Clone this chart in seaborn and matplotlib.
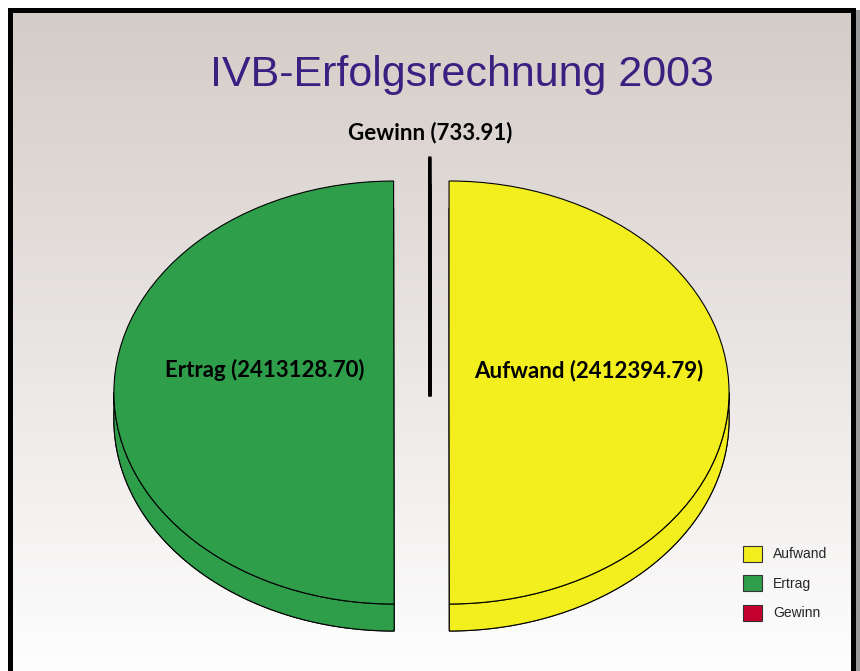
import numpy as np
import matplotlib.pyplot as plt
import matplotlib.patches as mpatches
import seaborn as sns

sns.set_theme(style="white")
plt.rcParams['font.family'] = ['Liberation Sans', 'DejaVu Sans']

# Data
title = "IVB-Erfolgsrechnung 2003"
categories = ["Aufwand", "Ertrag", "Gewinn"]
values = [2412394.79, 2413128.70, 733.91]
colors = ["#f3ef1f", "#2e9e4b", "#c4002e"]
explode = [0.068, 0.129, 0.109]

W, H = 860, 671
fig = plt.figure(figsize=(W / 100, H / 100), dpi=100)

# Framed background with a soft vertical gradient
bg = fig.add_axes([0, 0, 1, 1])
bg.set_xlim(0, W)
bg.set_ylim(H, 0)
bg.axis('off')
top_col = np.array([212, 204, 199]) / 255
bot_col = np.array([254, 254, 254]) / 255
frac = np.linspace(0, 1, 256)[:, None, None]
img = top_col + (bot_col - top_col) * frac
bg.imshow(img, extent=(13, 851, H, 13), aspect='auto', zorder=0)
bg.add_patch(mpatches.Rectangle((856, 10), 5, H, fc='#9a9a9a', ec='none', zorder=1))
for r in [(8, 8, 5, H), (8, 8, 848, 5), (851, 8, 5, H)]:
    bg.add_patch(mpatches.Rectangle(r[:2], r[2], r[3], fc='black', ec='none', zorder=2))

# Pie axes: pixel geometry of the elliptical top surface
ax = fig.add_axes([0, 0, 1, 1])
ax.patch.set_alpha(0)
cx, cy = 430, 392.5
rx, ry = 280, 211.5
depth = 27 / ry
wp = dict(edgecolor='black', linewidth=0.8)

bottom, _ = ax.pie(values, colors=colors, explode=explode, startangle=90,
                   counterclock=False, center=(0, -depth), wedgeprops=wp)
wedges, _ = ax.pie(values, colors=colors, explode=explode, startangle=90,
                   counterclock=False, wedgeprops=wp)

# side walls on the front half of each slice
for w in wedges:
    for k in range(-2, 2):
        a0 = max(w.theta1, 180 + 360 * k)
        a1 = min(w.theta2, 360 + 360 * k)
        if a1 > a0:
            t = np.radians(np.linspace(a0, a1, 120))
            x = w.center[0] + w.r * np.cos(t)
            y = w.center[1] + w.r * np.sin(t)
            poly = np.column_stack([np.r_[x, x[::-1]], np.r_[y, y[::-1] - depth]])
            ax.add_patch(mpatches.Polygon(poly, closed=True, fc=w.get_facecolor(),
                                          ec='black', lw=0.8, zorder=2))
for w in bottom:
    w.set_zorder(1)
for w in wedges:
    w.set_zorder(3)
bottom[2].set_linewidth(2.2)
wedges[2].set_linewidth(2.2)

# labels
total = sum(values)
for w, cat, val in zip(wedges, categories, values):
    mid = np.radians((w.theta1 + w.theta2) / 2)
    if val / total < 0.01:
        lx = w.center[0] + 1.12 * np.cos(mid)
        ly = w.center[1] + 1.12 * np.sin(mid)
    else:
        lx = w.center[0] + 0.48 * np.cos(mid) + 0.02
        ly = w.center[1] + 0.48 * np.sin(mid) + 0.106
    ax.text(lx, ly, f"{cat} ({val:.2f})", ha='center', va='center',
            fontsize=16, fontweight='bold', family=['Lato', 'DejaVu Sans'],
            color='black', zorder=5)

ax.set_xlim(-cx / rx, (W - cx) / rx)
ax.set_ylim((cy - H) / ry, cy / ry)
ax.set_aspect('auto')
ax.axis('off')

# legend
handles = [mpatches.Patch(fc=c, ec='#333333', lw=0.8) for c in colors]
ax.legend(handles, categories, loc='upper left',
          bbox_to_anchor=(743 / W, 1 - 546 / H), bbox_transform=fig.transFigure,
          frameon=False, fontsize=10, handlelength=1.35, handleheight=1.35,
          labelspacing=1.0, handletextpad=0.8, borderpad=0, borderaxespad=0)

fig.text(462 / W, 1 - 75 / H, title, ha='center', va='center',
         fontsize=31, color='#3b2081')

fig.savefig('out.png', dpi=100)
